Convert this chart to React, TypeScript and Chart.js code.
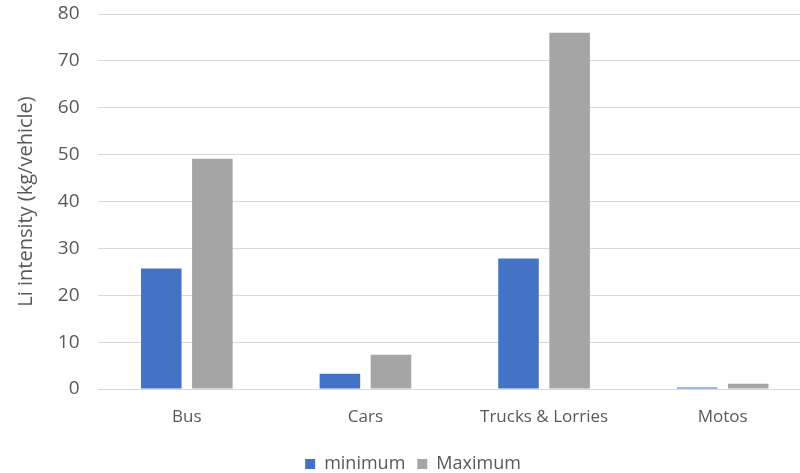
import React, { useEffect, useRef } from "react";
import { Chart, registerables } from "chart.js";

Chart.register(...registerables);

const categories = ["Bus", "Cars", "Trucks & Lorries", "Motos"];
const minimumValues = [25.7, 3.25, 27.85, 0.3];
const maximumValues = [49.1, 7.3, 76.0, 1.1];
const yTicks = [0, 10, 20, 30, 40, 50, 60, 70, 80];

const FONT = "'Open Sans', 'Noto Sans', sans-serif";
const TEXT = "#595959";

export default function App() {
  const ref = useRef<HTMLCanvasElement | null>(null);

  useEffect(() => {
    if (!ref.current) return;
    const chart = new Chart(ref.current, {
      type: "bar",
      data: {
        labels: categories,
        datasets: [
          { label: "minimum", data: minimumValues, backgroundColor: "#4472C4", borderWidth: 0 },
          { label: "Maximum", data: maximumValues, backgroundColor: "#A5A5A5", borderWidth: 0 },
        ],
      },
      options: {
        animation: false,
        responsive: false,
        devicePixelRatio: 1,
        layout: { padding: { top: 14, left: 14, right: 0, bottom: -10 } },
        datasets: { bar: { categoryPercentage: 0.572, barPercentage: 0.794 } },
        plugins: {
          legend: {
            position: "bottom",
            labels: {
              font: { family: FONT, size: 18 },
              color: TEXT,
              boxWidth: 10,
              boxHeight: 10,
              padding: 12,
            },
          },
          tooltip: { enabled: false },
        },
        scales: {
          x: {
            grid: { display: false },
            border: { display: false },
            ticks: { font: { family: FONT, size: 17 }, color: TEXT, padding: 10 },
            afterFit: (s: any) => {
              s.height = 54;
              s.paddingLeft = 0;
              s.paddingRight = 0;
            },
          },
          y: {
            min: 0,
            max: 80,
            afterBuildTicks: (s: any) => { s.ticks = yTicks.map((v) => ({ value: v })); },
            grid: { color: "#D9D9D9", lineWidth: 1, drawTicks: false },
            border: { display: false },
            ticks: { font: { family: FONT, size: 19 }, color: TEXT, padding: 18 },
            title: {
              display: true,
              text: "Li intensity (kg/vehicle)",
              font: { family: FONT, size: 20 },
              color: TEXT,
              padding: { top: 0, bottom: 8 },
            },
            afterFit: (s: any) => {
              s.width = 83.5;
              s.paddingTop = 0;
              s.paddingBottom = 0;
            },
          },
        },
      },
    });
    return () => chart.destroy();
  }, []);

  return (
    <div style={{ position: "fixed", left: 0, top: 0, width: 800, height: 473, overflow: "hidden", background: "#fff" }}>
      <canvas ref={ref} width={812} height={473} style={{ display: "block" }} />
    </div>
  );
}
